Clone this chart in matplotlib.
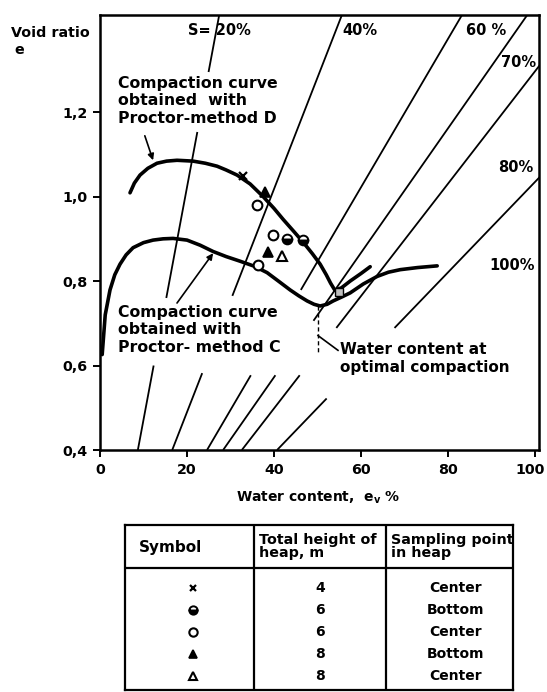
import matplotlib
matplotlib.use("Agg")
import matplotlib.pyplot as plt
import matplotlib.transforms as mtransforms
import numpy as np

# Compaction curves, water content w (%) vs void ratio e
curve_d_w = [6.9, 7.9, 9.2, 11.0, 13.1, 15.3, 17.7, 21.4, 24.2, 26.9, 29.0, 31.5, 34.5, 37.5,
             40.0, 42.1, 44.5, 46.7, 48.8, 50.6, 52.0, 53.0, 54.0, 55.5, 57.5, 60.0, 62.1]
curve_d_e = [1.009, 1.032, 1.051, 1.067, 1.079, 1.084, 1.086, 1.084, 1.079, 1.072, 1.063, 1.051, 1.030, 1.000,
             0.972, 0.946, 0.918, 0.892, 0.865, 0.840, 0.815, 0.795, 0.778, 0.784, 0.800, 0.818, 0.834]

curve_c_w = [0.5, 1.2, 2.3, 3.4, 4.6, 6.0, 7.6, 10.0, 12.2, 14.5, 16.8, 20.0, 23.0, 26.0, 29.0, 32.2,
             35.5, 38.4, 41.0, 43.7, 45.7, 47.6, 49.2, 50.6, 52.2, 53.6, 55.5, 57.5, 60.5, 63.7,
             66.3, 69.0, 73.0, 77.5]
curve_c_e = [0.626, 0.720, 0.779, 0.815, 0.840, 0.862, 0.879, 0.891, 0.897, 0.900, 0.901, 0.897, 0.885,
             0.870, 0.858, 0.847, 0.835, 0.820, 0.800, 0.779, 0.765, 0.753, 0.745, 0.741, 0.745, 0.753,
             0.762, 0.772, 0.793, 0.811, 0.821, 0.827, 0.832, 0.836]

# Degree of saturation lines: w at e = 0.4 and at e = 1.43
sat_labels = ["S= 20%", "40%", "60 %", "70%", "80%", "100%"]
sat_w_low = [8.7, 16.6, 24.6, 28.3, 32.6, 40.7]
sat_w_high = [27.4, 55.6, 83.2, 98.2, 110.0, 136.9]
sat_e_low = 0.4
sat_e_high = 1.43
# e-ranges along each line that are actually drawn (breaks around the notes)
sat_drawn = [
    [(0.40, 0.600), (0.760, 1.153), (1.295, 1.43)],
    [(0.40, 0.582), (0.765, 1.43)],
    [(0.40, 0.577), (0.779, 1.43)],
    [(0.40, 0.577), (0.706, 1.43)],
    [(0.40, 0.577), (0.689, 1.43)],
    [(0.40, 0.522), (0.689, 1.43)],
]

# Field samples from the heaps
samples = {
    "x": ([32.9], [1.049]),
    "half": ([43.0, 46.7], [0.899, 0.897]),
    "open_circle": ([36.1, 39.8, 36.3], [0.980, 0.908, 0.838]),
    "filled_tri": ([37.9, 38.6], [1.012, 0.870]),
    "open_tri": ([41.8], [0.859]),
}
opt_w, opt_e = 55.0, 0.774
opt_w_line = 50.0

x_ticks = [0, 20, 40, 60, 80, 100]
y_ticks = [0.4, 0.6, 0.8, 1.0, 1.2]
y_tick_labels = ["0,4", "0,6", "0,8", "1,0", "1,2"]

table_header = ["Symbol", "Total height of\nheap, m", "Sampling point\nin heap"]
table_heights = ["4", "6", "6", "8", "8"]
table_points = ["Center", "Bottom", "Center", "Bottom", "Center"]
table_symbols = ["x", "half", "open_circle", "filled_tri", "open_tri"]

marker_style = {
    "x": dict(marker="x", color="k", markersize=6, mew=1.6, linestyle="none"),
    "half": dict(marker="o", color="k", markersize=7, mew=1.4, fillstyle="bottom",
                 markerfacecoloralt="white", linestyle="none"),
    "open_circle": dict(marker="o", color="k", markersize=7, mew=1.5,
                        markerfacecolor="white", linestyle="none"),
    "filled_tri": dict(marker="^", color="k", markersize=7, mew=1.2, linestyle="none"),
    "open_tri": dict(marker="^", color="k", markersize=6.5, mew=1.5,
                     markerfacecolor="white", linestyle="none"),
}

plt.rcParams["font.family"] = "DejaVu Sans"
plt.rcParams["font.weight"] = "bold"

fig = plt.figure(figsize=(5.47, 6.92), dpi=100)
ax = fig.add_axes([100 / 547, 242 / 692, 439 / 547, 435 / 692])
ax.set_xlim(0, 100.9)
ax.set_ylim(0.4, 1.43)

# saturation lines
for lo, hi, parts in zip(sat_w_low, sat_w_high, sat_drawn):
    for e0, e1 in parts:
        ee = np.array([e0, e1])
        ww = np.interp(ee, [sat_e_low, sat_e_high], [lo, hi])
        ax.plot(ww, ee, color="k", lw=1.3, solid_capstyle="butt")

label_pos = [(20.3, 1.393), (55.8, 1.393), (84.2, 1.393), (92.2, 1.318), (91.6, 1.068), (89.4, 0.836)]
for txt, (x, y) in zip(sat_labels, label_pos):
    ax.text(x, y, txt, fontsize=10.5, ha="left", va="center")

# compaction curves
ax.plot(curve_d_w, curve_d_e, color="k", lw=2.6, solid_capstyle="round", solid_joinstyle="round")
ax.plot(curve_c_w, curve_c_e, color="k", lw=2.6, solid_capstyle="round", solid_joinstyle="round")

# optimum water content
ax.plot([opt_w_line, opt_w_line], [0.741, 0.631], color="k", lw=1.0, ls=(0, (3, 2)))
ax.plot([opt_w], [opt_e], marker="s", markersize=6, color="k", mfc="0.75", mew=1.0, linestyle="none")

for key, (ws, es) in samples.items():
    ax.plot(ws, es, **marker_style[key], zorder=5)

# notes
note_kw = dict(fontsize=11.3, ha="left", va="top", linespacing=1.2)
ax.text(4.1, 1.286, "Compaction curve\nobtained  with\nProctor-method D", **note_kw)
ax.annotate("", xy=(12.2, 1.086), xytext=(10.3, 1.144),
            arrowprops=dict(arrowstyle="-|>", color="k", lw=1.2, mutation_scale=9, shrinkA=0, shrinkB=0))
ax.text(4.1, 0.744, "Compaction curve\nobtained with\nProctor- method C", **note_kw)
ax.annotate("", xy=(26.0, 0.866), xytext=(17.7, 0.748),
            arrowprops=dict(arrowstyle="-|>", color="k", lw=1.2, mutation_scale=9, shrinkA=0, shrinkB=0))
ax.text(55.2, 0.655, "Water content at\noptimal compaction", fontsize=11, ha="left", va="top",
        linespacing=1.2)
ax.plot([50.1, 54.7], [0.671, 0.636], color="k", lw=1.2)

ax.set_xticks(x_ticks)
ax.set_yticks(y_ticks)
ax.set_yticklabels(y_tick_labels)
ax.tick_params(direction="out", length=5, width=1.4, labelsize=10.3, pad=4)
# keep the last x label inside the figure
last = ax.get_xticklabels()[-1]
last.set_transform(last.get_transform() + mtransforms.ScaledTranslation(-5 / 100, 0, fig.dpi_scale_trans))
for s in ax.spines.values():
    s.set_linewidth(1.8)

fig.text(11 / 547, 1 - 33 / 692, "Void ratio", fontsize=10.3, ha="left", va="center")
fig.text(14 / 547, 1 - 50 / 692, "e", fontsize=10.3, ha="left", va="center")
fig.text(318 / 547, 1 - 498 / 692, r"Water content,  e$_\mathbf{v}$ %", fontsize=10,
         ha="center", va="center")

# legend table
tab = fig.add_axes([125 / 547, 2 / 692, 388 / 547, 165 / 692])
tab.set_xlim(0, 1)
tab.set_ylim(0, 1)
tab.set_xticks([])
tab.set_yticks([])
for s in tab.spines.values():
    s.set_linewidth(1.6)
col_edges = [0.332, 0.673]
header_bottom = 0.739
for c in col_edges:
    tab.axvline(c, color="k", lw=1.6)
tab.axhline(header_bottom, color="k", lw=1.6)

tab.text(0.035, 0.865, table_header[0], fontsize=11, ha="left", va="center")
tab.text(0.345, 0.87, table_header[1], fontsize=10.3, ha="left", va="center", linespacing=0.95)
tab.text(0.685, 0.87, table_header[2], fontsize=10.3, ha="left", va="center", linespacing=0.95)

row_step = 22 / 165
first_row = 1 - 63 / 165
for i, (sym, h, p) in enumerate(zip(table_symbols, table_heights, table_points)):
    y = first_row - i * row_step
    style = dict(marker_style[sym])
    style["markersize"] = style["markersize"] - 1
    tab.plot([0.175], [y], **style)
    tab.text(0.503, y, h, fontsize=10, ha="center", va="center")
    tab.text(0.851, y, p, fontsize=10, ha="center", va="center")

fig.savefig("out.png", dpi=100)
